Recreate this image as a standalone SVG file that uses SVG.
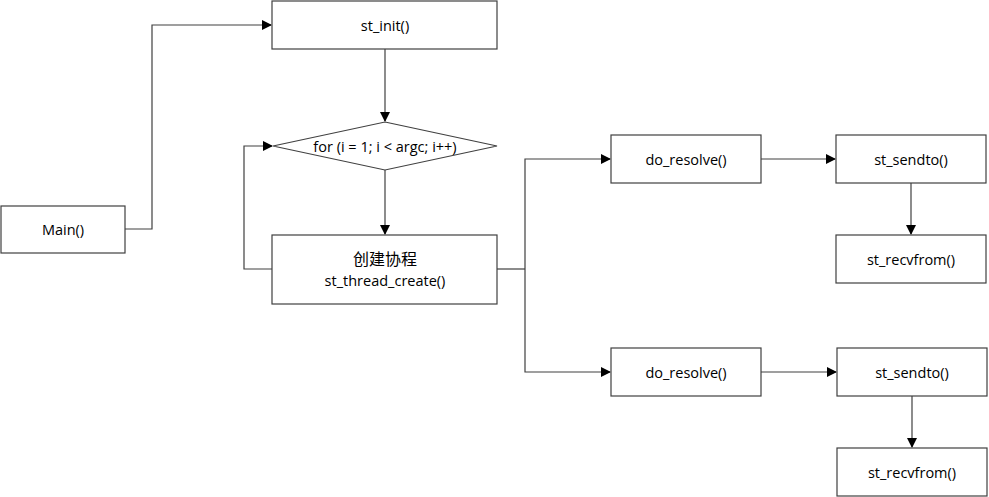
<svg xmlns="http://www.w3.org/2000/svg" width="989" height="497" viewBox="0 0 989 497">
<defs>
<marker id="arr" markerWidth="10" markerHeight="10" refX="9" refY="5" orient="auto" markerUnits="userSpaceOnUse">
<path d="M0,0 L10,5 L0,10 Z" fill="#000"/>
</marker>
<style>
.box{fill:#fff;stroke:#404040;stroke-width:1.2}
.t{font-family:"Open Sans","Noto Sans CJK SC",sans-serif;font-size:14.5px;fill:#000;text-anchor:middle;dominant-baseline:central}
.c{fill:none;stroke:#404040;stroke-width:1.2}
</style>
</defs>
<rect width="989" height="497" fill="#fff"/>
<g id="connectors">
<path class="c" d="M125,229 H152 V25 H271" marker-end="url(#arr)"/>
<path class="c" d="M385,49 V121" marker-end="url(#arr)"/>
<path class="c" d="M385,170 V234" marker-end="url(#arr)"/>
<path class="c" d="M272,269 H244 V146 H272" marker-end="url(#arr)"/>
<path class="c" d="M497,269 H525"/>
<path class="c" d="M525,269 V159 H610" marker-end="url(#arr)"/>
<path class="c" d="M525,269 V372 H610" marker-end="url(#arr)"/>
<path class="c" d="M761,159 H835" marker-end="url(#arr)"/>
<path class="c" d="M911,183 V234" marker-end="url(#arr)"/>
<path class="c" d="M761,372 H836" marker-end="url(#arr)"/>
<path class="c" d="M912,396 V447" marker-end="url(#arr)"/>
</g>
<g id="main"><rect class="box" x="1" y="206" width="124" height="47"/><text class="t" x="63" y="229.5">Main()</text></g>
<g id="st_init"><rect class="box" x="272" y="1" width="225" height="48"/><text class="t" x="385" y="25">st_init()</text></g>
<g id="for_loop"><polygon class="box" points="385,122 497,146 385,170 273,146"/><text class="t" x="385" y="146">for (i = 1; i &lt; argc; i++)</text></g>
<g id="create"><rect class="box" x="272" y="235" width="225" height="69"/><text class="t" x="385" y="259" style="font-size:16px">创建协程</text><text class="t" x="385" y="280">st_thread_create()</text></g>
<g id="do_resolve1"><rect class="box" x="611" y="135" width="150" height="48"/><text class="t" x="686" y="159">do_resolve()</text></g>
<g id="st_sendto1"><rect class="box" x="836" y="135" width="150" height="48"/><text class="t" x="911" y="159">st_sendto()</text></g>
<g id="st_recvfrom1"><rect class="box" x="836" y="235" width="150" height="48"/><text class="t" x="911" y="259">st_recvfrom()</text></g>
<g id="do_resolve2"><rect class="box" x="611" y="348" width="150" height="48"/><text class="t" x="686" y="372">do_resolve()</text></g>
<g id="st_sendto2"><rect class="box" x="837" y="348" width="150" height="48"/><text class="t" x="912" y="372">st_sendto()</text></g>
<g id="st_recvfrom2"><rect class="box" x="837" y="448" width="150" height="48"/><text class="t" x="912" y="472">st_recvfrom()</text></g>
</svg>
